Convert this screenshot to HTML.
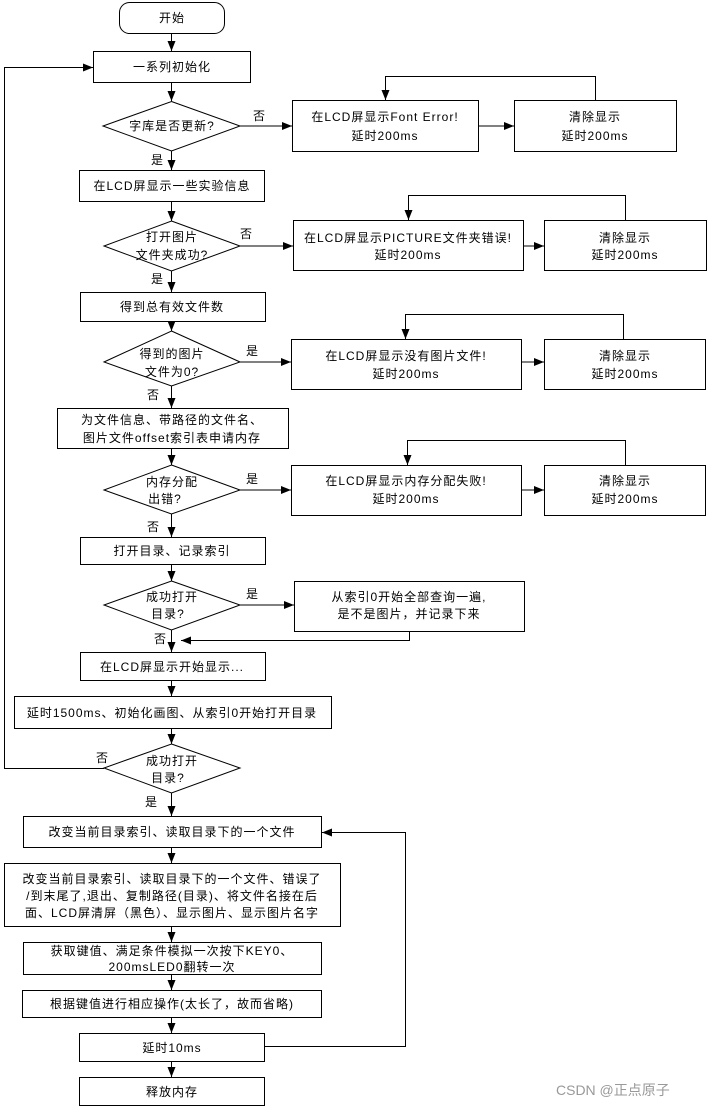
<!DOCTYPE html>
<html><head><meta charset="utf-8"><style>
html,body{margin:0;padding:0;background:#fff;}
svg{display:block;}
text{font-family:"Liberation Sans","Noto Sans CJK SC",sans-serif;font-size:12px;fill:#000;letter-spacing:1px;}
</style></head><body>
<svg width="707" height="1108" viewBox="0 0 707 1108" xmlns="http://www.w3.org/2000/svg">
<defs><marker id="a" markerWidth="10" markerHeight="8" refX="10" refY="4" orient="auto" markerUnits="userSpaceOnUse"><path d="M0,0 L10,4 L0,8 z" fill="#000"/></marker></defs>
<g fill="#fff" stroke="#000" stroke-width="1">
<rect x="119.5" y="2.5" width="105" height="31" rx="10"/>
<rect x="93.5" y="51.5" width="157" height="31"/>
<polygon points="171.5,101.5 240,126 171.5,151 103,126"/>
<rect x="292.5" y="100.5" width="186" height="51"/>
<rect x="514.5" y="100.5" width="162" height="51"/>
<rect x="79.5" y="170.5" width="185" height="31"/>
<polygon points="171.5,221 240,246 171.5,271 104,246"/>
<rect x="293.5" y="220.5" width="230" height="50"/>
<rect x="544.5" y="220.5" width="162" height="50"/>
<rect x="80.5" y="292.5" width="185" height="29"/>
<polygon points="171.5,331 240,362 171.5,386 104,362"/>
<rect x="291.5" y="339.5" width="230" height="50"/>
<rect x="544.5" y="339.5" width="161" height="50"/>
<rect x="57.5" y="408.5" width="231" height="40"/>
<polygon points="171.5,465 240,490 171.5,514 104,490"/>
<rect x="291.5" y="465.5" width="230" height="50"/>
<rect x="544.5" y="465.5" width="161" height="50"/>
<rect x="80.5" y="537.5" width="185" height="27"/>
<polygon points="171.5,581 240,605 171.5,630 104,605"/>
<rect x="294.5" y="581.5" width="230" height="50"/>
<rect x="80.5" y="652.5" width="185" height="28"/>
<rect x="14.5" y="696.5" width="317" height="32"/>
<polygon points="171.5,744 240,768 171.5,793 104,768"/>
<rect x="23.5" y="816.5" width="298" height="31"/>
<rect x="4.5" y="863.5" width="336" height="63"/>
<rect x="23.5" y="942.5" width="298" height="32"/>
<rect x="22.5" y="990.5" width="299" height="27"/>
<rect x="79.5" y="1033.5" width="185" height="28"/>
<rect x="79.5" y="1077.5" width="185" height="28"/>
</g>
<g stroke="#000" stroke-width="1" fill="none" marker-end="url(#a)">
<line x1="171.5" y1="33" x2="171.5" y2="51"/>
<line x1="171.5" y1="82" x2="171.5" y2="101"/>
<line x1="240" y1="126" x2="292" y2="126"/>
<line x1="478" y1="126" x2="514" y2="126"/>
<polyline points="595.5,100 595.5,76.5 385.5,76.5 385.5,100"/>
<line x1="171.5" y1="151" x2="171.5" y2="170"/>
<line x1="171.5" y1="201" x2="171.5" y2="221"/>
<line x1="240" y1="246" x2="293" y2="246"/>
<line x1="523" y1="246" x2="544" y2="246"/>
<polyline points="625.5,220 625.5,195.5 408.5,195.5 408.5,220"/>
<line x1="171.5" y1="271" x2="171.5" y2="292"/>
<line x1="171.5" y1="321" x2="171.5" y2="331"/>
<line x1="240" y1="362" x2="291" y2="362"/>
<line x1="521" y1="362" x2="544" y2="362"/>
<polyline points="623.5,339 623.5,314.5 405.5,314.5 405.5,339"/>
<line x1="171.5" y1="386" x2="171.5" y2="408"/>
<line x1="171.5" y1="448" x2="171.5" y2="465"/>
<line x1="240" y1="490" x2="291" y2="490"/>
<line x1="521" y1="490" x2="544" y2="490"/>
<polyline points="625.5,465 625.5,440.5 407.5,440.5 407.5,465"/>
<line x1="171.5" y1="514" x2="171.5" y2="537"/>
<line x1="171.5" y1="564" x2="171.5" y2="581"/>
<line x1="240" y1="605" x2="294" y2="605"/>
<polyline points="409.5,631 409.5,640.5 181,640.5"/>
<line x1="171.5" y1="630" x2="171.5" y2="652"/>
<line x1="171.5" y1="680" x2="171.5" y2="696"/>
<line x1="171.5" y1="728" x2="171.5" y2="744"/>
<polyline points="104,768.5 4.5,768.5 4.5,67.5 93,67.5"/>
<line x1="171.5" y1="793" x2="171.5" y2="816"/>
<line x1="171.5" y1="847" x2="171.5" y2="863"/>
<line x1="171.5" y1="926" x2="171.5" y2="942"/>
<line x1="171.5" y1="974" x2="171.5" y2="990"/>
<line x1="171.5" y1="1017" x2="171.5" y2="1033"/>
<polyline points="264,1046.5 405.5,1046.5 405.5,832.5 322,832.5"/>
<line x1="171.5" y1="1061" x2="171.5" y2="1077"/>
</g>
<g text-anchor="middle">
<text x="172" y="22">开始</text>
<text x="172" y="71">一系列初始化</text>
<text x="172" y="130">字库是否更新?</text>
<text x="385" y="121">在LCD屏显示Font Error!</text>
<text x="385" y="140">延时200ms</text>
<text x="595" y="121">清除显示</text>
<text x="595" y="140">延时200ms</text>
<text x="172" y="190">在LCD屏显示一些实验信息</text>
<text x="172" y="241">打开图片</text>
<text x="172" y="259">文件夹成功?</text>
<text x="408" y="242">在LCD屏显示PICTURE文件夹错误!</text>
<text x="408" y="259">延时200ms</text>
<text x="625" y="242">清除显示</text>
<text x="625" y="259">延时200ms</text>
<text x="172" y="311">得到总有效文件数</text>
<text x="172" y="358">得到的图片</text>
<text x="172" y="376">文件为0?</text>
<text x="406" y="360">在LCD屏显示没有图片文件!</text>
<text x="406" y="378">延时200ms</text>
<text x="625" y="360">清除显示</text>
<text x="625" y="378">延时200ms</text>
<text x="172" y="424">为文件信息、带路径的文件名、</text>
<text x="172" y="442">图片文件offset索引表申请内存</text>
<text x="172" y="486">内存分配</text>
<text x="165" y="503">出错?</text>
<text x="406" y="485">在LCD屏显示内存分配失败!</text>
<text x="406" y="503">延时200ms</text>
<text x="625" y="485">清除显示</text>
<text x="625" y="503">延时200ms</text>
<text x="172" y="555">打开目录、记录索引</text>
<text x="172" y="601">成功打开</text>
<text x="168" y="618">目录?</text>
<text x="409" y="601">从索引0开始全部查询一遍,</text>
<text x="409" y="618">是不是图片，并记录下来</text>
<text x="172" y="671">在LCD屏显示开始显示...</text>
<text x="172" y="717">延时1500ms、初始化画图、从索引0开始打开目录</text>
<text x="172" y="765">成功打开</text>
<text x="168" y="782">目录?</text>
<text x="172" y="836">改变当前目录索引、读取目录下的一个文件</text>
<text x="172" y="883">改变当前目录索引、读取目录下的一个文件、错误了</text>
<text x="172" y="900">/到末尾了,退出、复制路径(目录)、将文件名接在后</text>
<text x="172" y="917">面、LCD屏清屏（黑色）、显示图片、显示图片名字</text>
<text x="172" y="955">获取键值、满足条件模拟一次按下KEY0、</text>
<text x="172" y="971">200msLED0翻转一次</text>
<text x="172" y="1008">根据键值进行相应操作(太长了，故而省略)</text>
<text x="172" y="1052">延时10ms</text>
<text x="172" y="1096">释放内存</text>
</g>
<g>
<text x="253" y="120">否</text>
<text x="151" y="164">是</text>
<text x="240" y="238">否</text>
<text x="151" y="283">是</text>
<text x="246" y="355">是</text>
<text x="147" y="399">否</text>
<text x="246" y="483">是</text>
<text x="147" y="531">否</text>
<text x="246" y="598">是</text>
<text x="154" y="643">否</text>
<text x="96" y="762">否</text>
<text x="145" y="806">是</text>
<text x="556" y="1095" style="font-size:14px;fill:#999;letter-spacing:0">CSDN @正点原子</text>
</g>
</svg>
</body></html>
